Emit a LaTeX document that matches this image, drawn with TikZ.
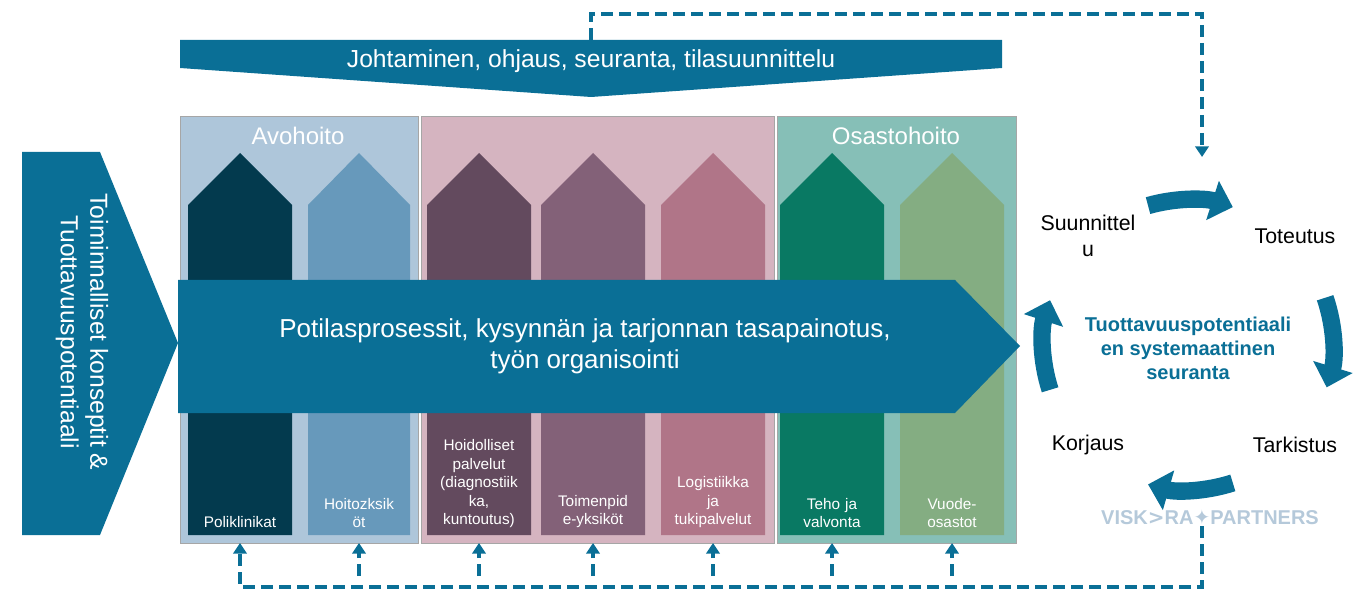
\documentclass[tikz,border=0pt]{standalone}
\usepackage{fontspec}
\setmainfont{Liberation Sans}
\newfontfamily\symfont{DejaVu Sans}
\usetikzlibrary{arrows.meta, positioning}
\definecolor{mainblue}{HTML}{0A6F96}
\definecolor{avobg}{HTML}{AEC6DA}
\definecolor{midbg}{HTML}{D5B4C0}
\definecolor{osabg}{HTML}{86BFB7}
\definecolor{colA}{HTML}{033A4E}
\definecolor{colB}{HTML}{6799BB}
\definecolor{colC}{HTML}{634A5E}
\definecolor{colD}{HTML}{836178}
\definecolor{colE}{HTML}{B07588}
\definecolor{colF}{HTML}{097963}
\definecolor{colG}{HTML}{84AD82}
\definecolor{logogray}{HTML}{B5C9DA}
\newcommand{\fpx}[1]{\fontsize{#1pt}{1.2\dimexpr#1pt\relax}\selectfont}

\begin{document}
\begin{tikzpicture}[
    x=0.75pt, y=-0.75pt,
    panel/.style={draw=gray!70, thin},
    collabel/.style={text=white, align=center, text width=78pt, anchor=south,
                     font=\fpx{11.5}, inner sep=0pt},
    cyclelabel/.style={text=black, font=\fpx{16}, align=center},
    feedback/.style={mainblue, line width=3pt, dash pattern=on 9pt off 4.5pt},
    fbarrow/.style={feedback, -{Triangle[width=10pt,length=8pt]}},
    cyclearrow/.style={mainblue, line width=13pt, -{Triangle[width=30pt,length=16pt]}}
]
\useasboundingbox (0,0) rectangle (1371,602);

% Top banner and left chevron
\fill[mainblue] (180,40) -- (1002,40) -- (1002,68) -- (591,97) -- (180,68) -- cycle;
\node[text=white, font=\fpx{18.5}] (banner) at (591,61) {Johtaminen, ohjaus, seuranta, tilasuunnittelu};
\fill[mainblue] (22,152) -- (100,152) -- (178,343) -- (100,535) -- (22,535) -- cycle;
\node[text=white, font=\fpx{18.5}, rotate=-90, align=center] (concept) at (82,332)
  {Toiminnalliset konseptit \&\\Tuottavuuspotentiaali};

% Panels
\fill[avobg, panel] (180,116) rectangle (418,543);
\fill[midbg, panel] (421,116) rectangle (774,543);
\fill[osabg, panel] (777,116) rectangle (1016,543);
\node[text=white, font=\fpx{18}] (avo) at (298,136) {Avohoito};
\node[text=white, font=\fpx{18}] (osasto) at (896,136) {Osastohoito};

% Columns
\foreach \name/\xa/\xb/\col in {c1/188/292/colA, c2/308/410/colB, c3/427/531/colC,
    c4/541/645/colD, c5/661/765/colE, c6/780/884/colF, c7/900/1004/colG}{
  \fill[\col] (\xa,535) -- (\xa,205) -- ({(\xa+\xb)/2},153) -- (\xb,205) -- (\xb,535) -- cycle;
  \coordinate (\name) at ({(\xa+\xb)/2},543);
}
\node[collabel] (l1) at (240,528) {Poliklinikat};
\node[collabel] (l2) at (359,528) {Hoitozksik\\öt};
\node[collabel] (l3) at (479,528) {Hoidolliset\\palvelut\\(diagnostiik\\ka,\\kuntoutus)};
\node[collabel] (l4) at (593,528) {Toimenpid\\e-yksiköt};
\node[collabel] (l5) at (713,528) {Logistiikka\\ja\\tukipalvelut};
\node[collabel] (l6) at (832,528) {Teho ja\\valvonta};
\node[collabel] (l7) at (952,528) {Vuode-\\osastot};

% Process arrow
\fill[mainblue] (178,280) -- (955,280) -- (1020,346) -- (955,413) -- (178,413) -- cycle;
\node[text=white, font=\fpx{19.5}, align=center] (process) at (585,346)
  {Potilasprosessit, kysynnän ja tarjonnan tasapainotus,\\työn organisointi};

% Cycle
\coordinate (cyc) at (1188,345);
\node[text=mainblue, font=\bfseries\fpx{15}, align=center, inner sep=0pt] (centre) at (1188,348)
  {Tuottavuuspotentiaali\\en systemaattinen\\seuranta};
\draw[cyclearrow] ([shift={(-106:145)}]cyc) arc[start angle=-106, end angle=-72, radius=145];
\draw[cyclearrow] ([shift={(-19:145)}]cyc) arc[start angle=-19, end angle=17, radius=145];
\draw[cyclearrow] ([shift={(72:145)}]cyc) arc[start angle=72, end angle=106, radius=145];
\draw[cyclearrow] ([shift={(162:145)}]cyc) arc[start angle=162, end angle=198, radius=145];
\node[cyclelabel] (plan) at (1088,236) {Suunnittel\\u};
\node[cyclelabel] (do) at (1295,236) {Toteutus};
\node[cyclelabel] (fix) at (1088,445) {Korjaus};
\node[cyclelabel] (check) at (1295,445) {Tarkistus};
\node[text=logogray, font=\bfseries\fpx{15}, inner sep=1pt] (logo) at (1210,517)
  {VISK{\symfont>}RA{\symfont✦}PARTNERS};

% Feedback loops
\coordinate (topturn) at (1202,14);
\draw[fbarrow] (591,40) |- (topturn) -- (1202,157);
\draw[fbarrow] (logo.south -| 1202,0) -- (1202,587) -| (c1);
\foreach \c in {c2,c3,c4,c5,c6,c7}
  \draw[fbarrow] (\c) ++(0,33) -- (\c);
\end{tikzpicture}
\end{document}
